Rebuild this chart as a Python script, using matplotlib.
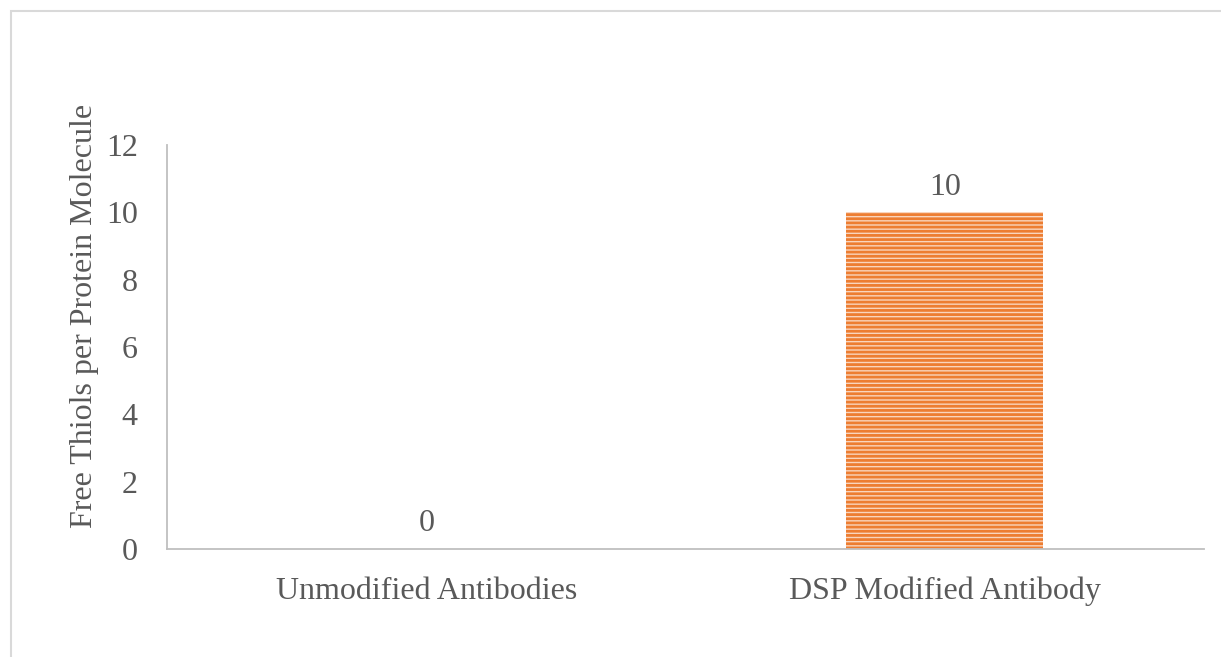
import matplotlib.pyplot as plt
from matplotlib.patches import Rectangle

categories = ["Unmodified Antibodies", "DSP Modified Antibody"]
values = [0, 10]
y_ticks = [0, 2, 4, 6, 8, 10, 12]
y_label = "Free Thiols per Protein Molecule"

plt.rcParams['font.family'] = ['Liberation Serif', 'DejaVu Serif']
plt.rcParams['hatch.linewidth'] = 2.0
plt.rcParams['hatch.color'] = '#ED7D31'
text_color = '#595959'

W, H = 1221, 657
fig = plt.figure(figsize=(W / 100, H / 100), dpi=100)

# chart area border (cut off at right and bottom like the source)
fig.patches.append(Rectangle((10.5 / W, -0.1), 1.2, 1 - 10.5 / H + 0.1,
                             transform=fig.transFigure, fill=False,
                             edgecolor='#D9D9D9', linewidth=1.5))

ax = fig.add_axes([167 / W, 1 - 549 / H, (1204 - 167) / W, (549 - 145) / H])

x = range(len(categories))
bars = ax.bar(x, values, width=0.38, color='#F9D5BD', hatch='----',
              edgecolor='#ED7D31', linewidth=0)

for xi, v in zip(x, values):
    ax.text(xi, v + 0.32, str(v), ha='center', va='bottom',
            fontsize=23, color=text_color)

ax.set_xlim(-0.5, 1.5)
ax.set_ylim(0, 12)
ax.set_yticks(y_ticks)
ax.set_xticks(list(x))
ax.set_xticklabels(categories)
ax.tick_params(axis='both', length=0, labelsize=23, labelcolor=text_color)
ax.tick_params(axis='x', pad=20)
ax.tick_params(axis='y', pad=21)

for s in ['top', 'right']:
    ax.spines[s].set_visible(False)
for s in ['left', 'bottom']:
    ax.spines[s].set_color('#BFBFBF')
    ax.spines[s].set_linewidth(1.3)

ax.set_ylabel(y_label, fontsize=23, color=text_color, labelpad=5, y=0.578)

fig.savefig('out.png', dpi=100)
